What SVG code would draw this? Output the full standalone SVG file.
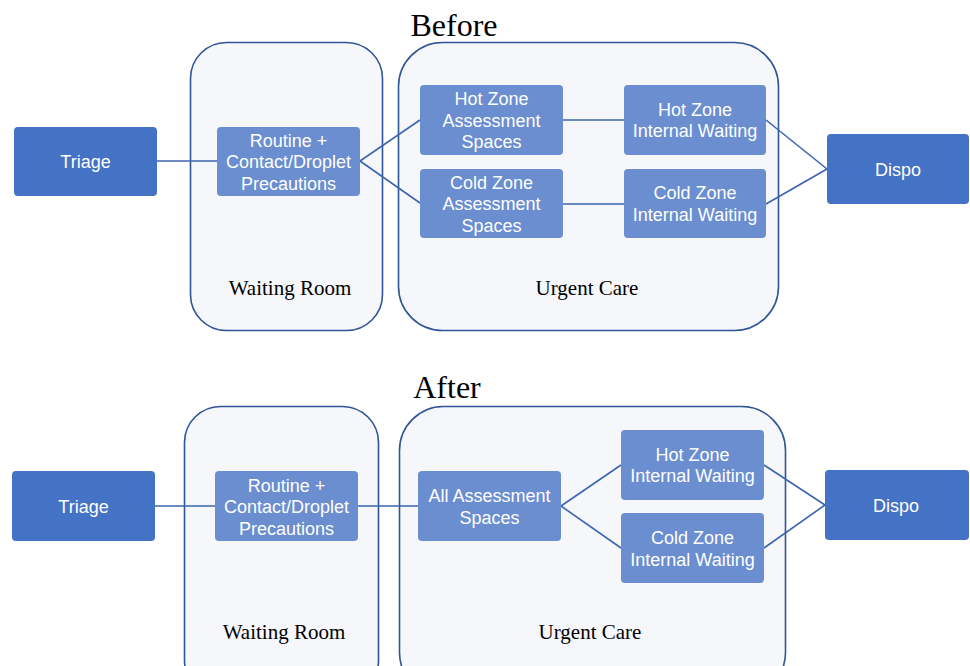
<svg xmlns="http://www.w3.org/2000/svg" width="970" height="666" viewBox="0 0 970 666">
<style>
.cont{fill:#F5F7FB;stroke:#2F5597;stroke-width:1.6}
.dark{fill:#4472C4}
.light{fill:#6A8ED0}
.bt{font-family:"Liberation Sans",Arial,sans-serif;font-size:18px;fill:#FFFFFF;text-anchor:middle}
.ser{font-family:"Liberation Serif","Times New Roman",serif;fill:#000000;text-anchor:middle}
.title{font-size:32px}
.lab{font-size:21px}
.conn line{stroke:#3D65AE;stroke-width:1.6}
</style>
<rect width="970" height="666" fill="#FFFFFF"/>

<!-- BEFORE -->
<text class="ser title" x="454" y="36">Before</text>
<g id="b-waiting"><rect class="cont" x="190.5" y="42.5" width="192" height="288" rx="36"/><text class="ser lab" x="290" y="295">Waiting Room</text></g>
<g id="b-urgent"><rect class="cont" x="398.5" y="42.5" width="380" height="288" rx="44"/><text class="ser lab" x="587" y="295">Urgent Care</text></g>
<g class="conn" id="b-connectors">
<line x1="157" y1="161" x2="217" y2="161"/>
<line x1="360" y1="161" x2="420" y2="120"/>
<line x1="360" y1="161" x2="420" y2="203"/>
<line x1="563" y1="120" x2="624" y2="120"/>
<line x1="563" y1="204" x2="624" y2="204"/>
<line x1="766" y1="120" x2="827" y2="169"/>
<line x1="766" y1="204" x2="827" y2="169"/>
</g>
<g id="b-triage"><rect class="dark" x="14" y="127" width="143" height="69" rx="4"/><text class="bt" x="85.5" y="167.5">Triage</text></g>
<g id="b-routine"><rect class="light" x="217" y="127" width="143" height="69" rx="4"/><text class="bt" x="288.5" y="146.5">Routine +</text><text class="bt" x="288.5" y="168">Contact/Droplet</text><text class="bt" x="288.5" y="189.5">Precautions</text></g>
<g id="b-hot-assess"><rect class="light" x="420" y="85" width="143" height="70" rx="4"/><text class="bt" x="491.5" y="104.5">Hot Zone</text><text class="bt" x="491.5" y="126.5">Assessment</text><text class="bt" x="491.5" y="147.5">Spaces</text></g>
<g id="b-cold-assess"><rect class="light" x="420" y="169" width="143" height="69" rx="4"/><text class="bt" x="491.5" y="188.5">Cold Zone</text><text class="bt" x="491.5" y="209.5">Assessment</text><text class="bt" x="491.5" y="231.5">Spaces</text></g>
<g id="b-hot-wait"><rect class="light" x="624" y="85" width="142" height="70" rx="4"/><text class="bt" x="695" y="115.5">Hot Zone</text><text class="bt" x="695" y="136.5">Internal Waiting</text></g>
<g id="b-cold-wait"><rect class="light" x="624" y="169" width="142" height="69" rx="4"/><text class="bt" x="695" y="198.5">Cold Zone</text><text class="bt" x="695" y="220.5">Internal Waiting</text></g>
<g id="b-dispo"><rect class="dark" x="827" y="134" width="142" height="70" rx="4"/><text class="bt" x="898" y="175.5">Dispo</text></g>

<!-- AFTER -->
<text class="ser title" x="447" y="398">After</text>
<g id="a-waiting"><rect class="cont" x="184.5" y="406.5" width="194" height="290" rx="36"/><text class="ser lab" x="284" y="639">Waiting Room</text></g>
<g id="a-urgent"><rect class="cont" x="399.5" y="406.5" width="386" height="290" rx="44"/><text class="ser lab" x="590" y="639">Urgent Care</text></g>
<g class="conn" id="a-connectors">
<line x1="155" y1="506" x2="215" y2="506"/>
<line x1="358" y1="506" x2="418" y2="506"/>
<line x1="561" y1="506" x2="621" y2="465"/>
<line x1="561" y1="506" x2="621" y2="548"/>
<line x1="764" y1="465" x2="825" y2="505"/>
<line x1="764" y1="548" x2="825" y2="505"/>
</g>
<g id="a-triage"><rect class="dark" x="12" y="471" width="143" height="70" rx="4"/><text class="bt" x="83.5" y="512.5">Triage</text></g>
<g id="a-routine"><rect class="light" x="215" y="471" width="143" height="70" rx="4"/><text class="bt" x="286.5" y="491.5">Routine +</text><text class="bt" x="286.5" y="512.5">Contact/Droplet</text><text class="bt" x="286.5" y="534.5">Precautions</text></g>
<g id="a-all-assess"><rect class="light" x="418" y="471" width="143" height="70" rx="4"/><text class="bt" x="489.5" y="501.5">All Assessment</text><text class="bt" x="489.5" y="523.5">Spaces</text></g>
<g id="a-hot-wait"><rect class="light" x="621" y="430" width="143" height="70" rx="4"/><text class="bt" x="692.5" y="460.5">Hot Zone</text><text class="bt" x="692.5" y="481.5">Internal Waiting</text></g>
<g id="a-cold-wait"><rect class="light" x="621" y="513" width="143" height="70" rx="4"/><text class="bt" x="692.5" y="543.5">Cold Zone</text><text class="bt" x="692.5" y="565.5">Internal Waiting</text></g>
<g id="a-dispo"><rect class="dark" x="825" y="470" width="144" height="70" rx="4"/><text class="bt" x="896" y="511.5">Dispo</text></g>
</svg>
